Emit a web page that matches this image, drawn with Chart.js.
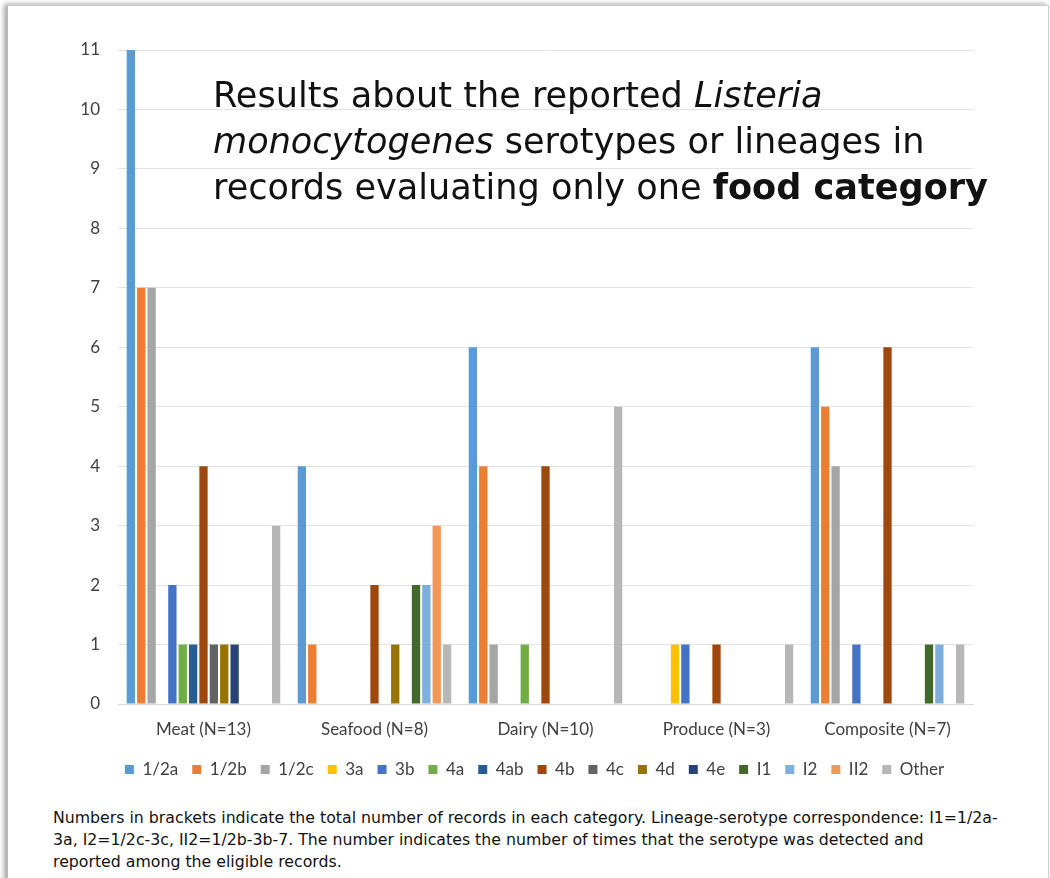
<!DOCTYPE html>
<html>
<head>
<meta charset="utf-8">
<script src="https://cdn.jsdelivr.net/npm/chart.js@4/dist/chart.umd.min.js"></script>
<style>
  html, body { margin: 0; padding: 0; background: #ffffff; width: 1050px; height: 878px; overflow: hidden; }
  #card {
    position: absolute; left: 7px; top: 5px; width: 1040px; height: 880px;
    border-left: 1px solid #b8b8b8; border-top: 1px solid #cfcfcf; border-right: 1px solid #cfcfcf;
    box-shadow: -3px -1px 5px rgba(0,0,0,0.35);
    background: #ffffff;
  }
  #wrap { position: absolute; left: 0; top: 0; width: 1050px; height: 800px; }
  #title {
    position: absolute; left: 213px; top: 72px;
    font-family: "DejaVu Sans", sans-serif; font-weight: 400;
    font-size: 30px; line-height: 46px; color: #111111; white-space: nowrap;
  }
  #note {
    position: absolute; left: 53px; top: 807px;
    font-family: "DejaVu Sans", sans-serif;
    font-size: 14px; line-height: 22px; color: #111111; white-space: nowrap;
  }
  .ln { display: block; }
  .ln span.m { display: inline; }
</style>
</head>
<body>
<div id="card"></div>
<div id="wrap"><canvas id="chart" width="1050" height="800"></canvas></div>
<div id="title"><span class="ln"><span class="m" id="t1">Results about the reported <i>Listeria</i></span></span><span class="ln"><i>monocytogenes</i> serotypes or lineages in</span><span class="ln">records evaluating only one <b>food category</b></span></div>
<div id="note"><span class="ln"><span class="m" id="n1">Numbers in brackets indicate the total number of records in each category. Lineage-serotype correspondence: I1=1/2a-</span></span><span class="ln">3a, I2=1/2c-3c, II2=1/2b-3b-7. The number indicates the number of times that the serotype was detected and</span><span class="ln">reported among the eligible records.</span></div>
<script>
// Food categories on the x axis
const categories = ["Meat (N=13)", "Seafood (N=8)", "Dairy (N=10)", "Produce (N=3)", "Composite (N=7)"];

// Serotype / lineage names, one bar series each
const serotypes = ["1/2a", "1/2b", "1/2c", "3a", "3b", "4a", "4ab", "4b", "4c", "4d", "4e", "I1", "I2", "II2", "Other"];

// Counts per serotype, in category order (Meat, Seafood, Dairy, Produce, Composite)
const v_1_2a  = [11, 4, 6, 0, 6];
const v_1_2b  = [7, 1, 4, 0, 5];
const v_1_2c  = [7, 0, 1, 0, 4];
const v_3a    = [0, 0, 0, 1, 0];
const v_3b    = [2, 0, 0, 1, 1];
const v_4a    = [1, 0, 1, 0, 0];
const v_4ab   = [1, 0, 0, 0, 0];
const v_4b    = [4, 2, 4, 1, 6];
const v_4c    = [1, 0, 0, 0, 0];
const v_4d    = [1, 1, 0, 0, 0];
const v_4e    = [1, 0, 0, 0, 0];
const v_I1    = [0, 2, 0, 0, 1];
const v_I2    = [0, 2, 0, 0, 1];
const v_II2   = [0, 3, 0, 0, 0];
const v_Other = [3, 1, 5, 1, 1];

// Y axis ticks
const yTicks = [0, 1, 2, 3, 4, 5, 6, 7, 8, 9, 10, 11];

const seriesValues = [v_1_2a, v_1_2b, v_1_2c, v_3a, v_3b, v_4a, v_4ab, v_4b, v_4c, v_4d, v_4e, v_I1, v_I2, v_II2, v_Other];
const seriesColors = ["#5B9BD5", "#ED7D31", "#A5A5A5", "#FFC000", "#4472C4", "#70AD47", "#255E91",
                      "#9E480E", "#636363", "#997300", "#264478", "#43682B", "#7CAFDD", "#F1975A", "#B7B7B7"];

// Size the overlay texts so their first lines span the intended widths
function fitWidth(boxId, lineId, target) {
  const box = document.getElementById(boxId);
  const line = document.getElementById(lineId);
  const size = parseFloat(getComputedStyle(box).fontSize);
  const w = line.getBoundingClientRect().width;
  box.style.fontSize = (size * target / w).toFixed(2) + "px";
}
fitWidth("title", "t1", 610);
fitWidth("note", "n1", 945);

const datasets = serotypes.map((name, i) => ({
  label: name,
  data: seriesValues[i],
  backgroundColor: seriesColors[i],
  borderWidth: 0,
  categoryPercentage: 0.91,
  barPercentage: 0.8
}));

const axisFont = { family: "Lato, 'Liberation Sans', sans-serif", size: 17 };

// Centre the legend row under the whole card rather than the plot area
const legendShift = {
  id: "legendShift",
  afterLayout(chart) {
    const lg = chart.legend;
    if (lg) { lg.left += 48; lg.right += 48; }
  }
};

new Chart(document.getElementById("chart"), {
  type: "bar",
  data: { labels: categories, datasets: datasets },
  plugins: [legendShift],
  options: {
    responsive: false,
    animation: false,
    devicePixelRatio: 1,
    layout: { padding: { left: 0, right: 77, top: 50, bottom: 12 } },
    plugins: {
      title: { display: false },
      tooltip: { enabled: false },
      legend: {
        position: "bottom",
        labels: {
          font: axisFont, color: "#404040",
          boxWidth: 9, boxHeight: 9, padding: 14
        }
      }
    },
    scales: {
      x: {
        grid: { display: false, drawTicks: false },
        border: { display: true, color: "#d9d9d9" },
        ticks: { font: axisFont, color: "#404040", padding: 15 },
        afterFit: (s) => { s.height = 43; }
      },
      y: {
        min: 0, max: 11,
        afterBuildTicks: (s) => { s.ticks = yTicks.map(v => ({ value: v })); },
        grid: { color: "#e3e3e3", drawTicks: false },
        border: { display: false },
        ticks: { font: axisFont, color: "#404040", padding: 18 },
        afterFit: (s) => { s.width = 118; }
      }
    }
  }
});
</script>
</body>
</html>
